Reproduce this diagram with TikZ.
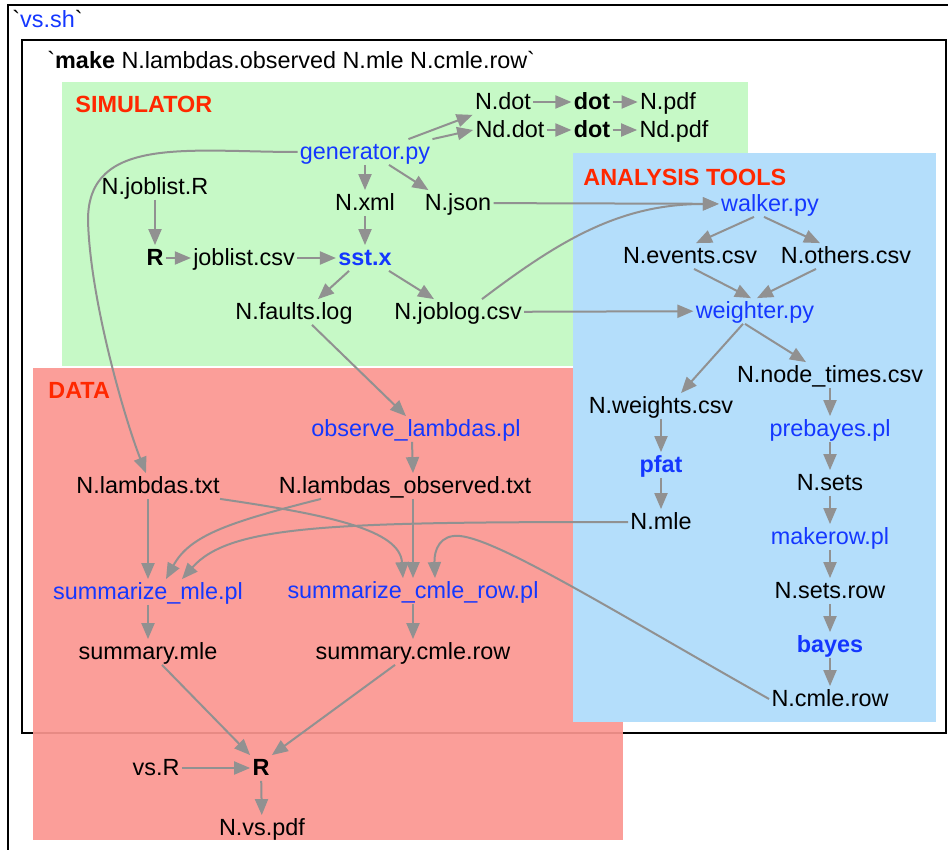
\documentclass[tikz,border=0pt]{standalone}
\usepackage{fontspec}
\setmainfont{Liberation Sans}
\usepackage{tikz}
\usetikzlibrary{arrows.meta,positioning}
\usepackage{xcolor}
\definecolor{simgreen}{RGB}{198,249,198}
\definecolor{datared}{RGB}{251,150,144}
\definecolor{toolblue}{RGB}{180,222,251}
\definecolor{progblue}{RGB}{20,55,255}
\definecolor{arealabel}{RGB}{255,40,0}
\definecolor{edgegray}{RGB}{145,145,145}
\tikzstyle{file} = [inner sep=1pt, text height=9pt, text depth=1.5pt, font=\fontsize{11.7}{14}\selectfont]
\tikzstyle{prog} = [file, text=progblue]
\tikzstyle{tool} = [file, text=progblue, font=\fontsize{11.7}{14}\selectfont\bfseries]
\tikzstyle{cmd} = [file, font=\fontsize{11.7}{14}\selectfont\bfseries]
\tikzstyle{area} = [anchor=west, inner sep=0pt, text=arealabel, font=\fontsize{11.7}{14}\selectfont\bfseries]
\tikzstyle{frame} = [draw=black, line width=1pt]
\tikzstyle{arrow} = [line width=1pt, -{Triangle[length=8pt,width=6.5pt]}, color=edgegray]

\begin{document}
\begin{tikzpicture}[x=0.5pt, y=-0.5pt, node distance=27pt]
\useasboundingbox (0,0) rectangle (948,850);
\clip (0,0) rectangle (948,850);

% Frames
\draw[frame] (8,5) rectangle (1000,900);
\draw[frame] (22,40) rectangle (946,733);
\node (vssh) [file, anchor=west] at (10,20) {\textasciigrave\textcolor{progblue}{vs.sh}\textasciigrave};
\node (make) [file, anchor=west] at (45,61) {\textasciigrave\textbf{make} N.lambdas.observed N.mle N.cmle.row\textasciigrave};

% Areas
\fill[simgreen] (62,82) rectangle (748,366);
\fill[datared, fill opacity=0.92] (33,368) rectangle (623,840);
\fill[toolblue] (573,153) rectangle (936,722);
\node (simlabel) [area] at (75,104) {SIMULATOR};
\node (toollabel) [area] at (583,177) {ANALYSIS TOOLS};
\node (datalabel) [area] at (48,390) {DATA};

% Simulator
\node (ndot) [file] at (503,102) {N.dot};
\node (dota) [cmd] at (592,102) {dot};
\node (npdf) [file] at (668,102) {N.pdf};
\node (nddot) [file] at (510,130) {Nd.dot};
\node (dotb) [cmd] at (592,130) {dot};
\node (ndpdf) [file] at (674,130) {Nd.pdf};
\node (gen) [prog] at (365,152) {generator.py};
\node (joblistr) [file] at (155,187) {N.joblist.R};
\node (nxml) [file] at (365,203) {N.xml};
\node (njson) [file] at (458,203) {N.json};
\node (rsim) [cmd] at (155,258) {R};
\node (jcsv) [file] at (244,258) {joblist.csv};
\node (sst) [tool] at (365,258) {sst.x};
\node (faults) [file] at (294,312) {N.faults.log};
\node (joblog) [file] at (458,312) {N.joblog.csv};

% Analysis tools
\node (walker) [prog] at (770,204) {walker.py};
\node (events) [file] at (690,256) {N.events.csv};
\node (others) [file] at (846,256) {N.others.csv};
\node (weighter) [prog] at (755,311) {weighter.py};
\node (nodetimes) [file] at (830,375) {N.node\_times.csv};
\node (prebayes) [prog, below of=nodetimes] {prebayes.pl};
\node (nsets) [file, below of=prebayes] {N.sets};
\node (makerow) [prog, below of=nsets] {makerow.pl};
\node (setsrow) [file, below of=makerow] {N.sets.row};
\node (bayes) [tool, below of=setsrow] {bayes};
\node (ncmle) [file, below of=bayes] {N.cmle.row};
\node (weights) [file] at (661,406) {N.weights.csv};
\node (pfat) [tool] at (661,465) {pfat};
\node (nmle) [file] at (661,522) {N.mle};

% Data
\node (observe) [prog] at (416,429) {observe\_lambdas.pl};
\node (lambdas) [file] at (148,486) {N.lambdas.txt};
\node (lobs) [file] at (405,486) {N.lambdas\_observed.txt};
\node (summle) [prog] at (148,592) {summarize\_mle.pl};
\node (sumcmle) [prog] at (413,591) {summarize\_cmle\_row.pl};
\node (smle) [file] at (148,652) {summary.mle};
\node (scmle) [file] at (413,652) {summary.cmle.row};
\node (rdata) [cmd] at (261,768) {R};
\node (vsr) [file] at (156,768) {vs.R};
\node (vspdf) [file] at (262,828) {N.vs.pdf};

% Arrows
\draw[arrow] ([xshift=-12pt]gen.north east) -- (ndot.south west);
\draw[arrow] (gen.north east) -- (nddot.west);
\draw[arrow] (ndot) -- (dota);
\draw[arrow] (dota) -- (npdf);
\draw[arrow] (nddot) -- (dotb);
\draw[arrow] (dotb) -- (ndpdf);
\draw[arrow] (gen) -- (nxml);
\draw[arrow] ([xshift=12pt]gen.south) -- ([xshift=3pt]njson.north west);
\draw[arrow] (gen.west) .. controls (190,152) and (88,135) .. (88,220)
  .. controls (90,300) and (125,420) .. ([xshift=-1pt]lambdas.north);
\draw[arrow] (joblistr) -- (rsim);
\draw[arrow] (rsim) -- (jcsv);
\draw[arrow] (jcsv) -- (sst);
\draw[arrow] (nxml) -- (sst);
\draw[arrow] ([xshift=-8pt]sst.south) -- ([xshift=12pt]faults.north);
\draw[arrow] ([xshift=12pt]sst.south) -- ([xshift=-12pt]joblog.north);
\draw[arrow] (njson) -- (walker);
\draw[arrow] ([xshift=12pt]joblog.north) .. controls (560,240) and (620,204) .. (walker.west);
\draw[arrow] (joblog) -- (weighter);
\draw[arrow] ([xshift=-8pt]walker.south) -- ([xshift=3pt]events.north);
\draw[arrow] ([xshift=-3pt]walker.south) -- ([xshift=-13pt]others.north);
\draw[arrow] ([xshift=2pt]events.south) -- ([xshift=-2pt]weighter.north);
\draw[arrow] ([xshift=-15pt]others.south) -- ([xshift=1pt]weighter.north);
\draw[arrow] ([xshift=-6pt]weighter.south) -- ([xshift=10pt]weights.north);
\draw[arrow] ([xshift=-5pt]weighter.south) -- ([xshift=-12pt]nodetimes.north);
\draw[arrow] (weights) -- (pfat);
\draw[arrow] (pfat) -- (nmle);
\draw[arrow] (nodetimes) -- (prebayes);
\draw[arrow] (prebayes) -- (nsets);
\draw[arrow] (nsets) -- (makerow);
\draw[arrow] (makerow) -- (setsrow);
\draw[arrow] (setsrow) -- (bayes);
\draw[arrow] (bayes) -- (ncmle);
\draw[arrow] ([xshift=9pt]faults.south) -- ([xshift=-5pt]observe.north);
\draw[arrow] ([xshift=-2pt]observe.south) -- ([xshift=4pt]lobs.north);
\draw[arrow] (lambdas) -- (summle);
\draw[arrow] ([xshift=36pt]lambdas.south) .. controls (330,515) and (400,530) .. ([xshift=-5pt]sumcmle.north);
\draw[arrow] ([xshift=-42pt]lobs.south) .. controls (230,522) and (190,535) .. ([xshift=9pt]summle.north);
\draw[arrow] ([xshift=4pt]lobs.south) -- (sumcmle.north);
\draw[arrow] (nmle.west) .. controls (330,522) and (230,525) .. ([xshift=17pt]summle.north);
\draw[arrow] (ncmle.west) .. controls (620,615) and (500,540) .. (460,536)
  .. controls (440,534) and (434,550) .. ([xshift=11pt]sumcmle.north);
\draw[arrow] (summle) -- (smle);
\draw[arrow] (sumcmle) -- (scmle);
\draw[arrow] ([xshift=7pt]smle.south) -- (rdata.north west);
\draw[arrow] ([xshift=-9pt]scmle.south) -- (rdata.north east);
\draw[arrow] (vsr) -- (rdata);
\draw[arrow] (rdata) -- (vspdf);
\end{tikzpicture}
\end{document}
